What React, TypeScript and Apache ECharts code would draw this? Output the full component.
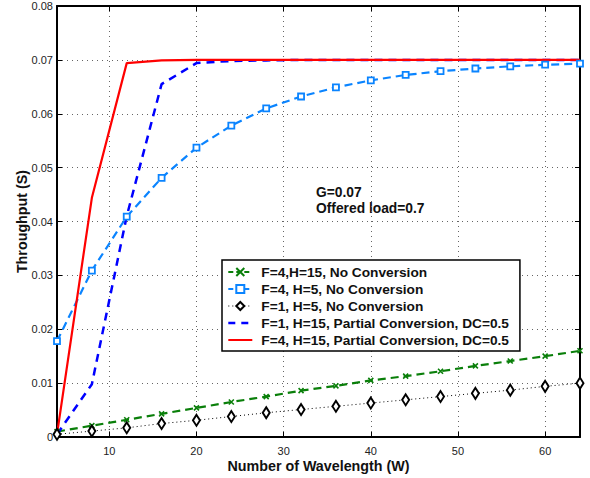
import React, { useEffect, useRef } from "react";
import * as echarts from "echarts";

const wavelengths = [4, 8, 12, 16, 20, 24, 28, 32, 36, 40, 44, 48, 52, 56, 60, 64];
const seriesNames = [
  "F=4,H=15, No Conversion",
  "F=4, H=5, No Conversion",
  "F=1, H=5, No Conversion",
  "F=1, H=15, Partial Conversion, DC=0.5",
  "F=4, H=15, Partial Conversion, DC=0.5",
];
const f4h15NoConv = [0.001, 0.0021, 0.0032, 0.0043, 0.0054, 0.0065, 0.0075, 0.0086, 0.0095, 0.0105, 0.0113, 0.0122, 0.0132, 0.0141, 0.015, 0.016];
const f4h5NoConv = [0.0178, 0.0309, 0.0409, 0.0481, 0.0537, 0.0578, 0.061, 0.0632, 0.0649, 0.0662, 0.0672, 0.0679, 0.0684, 0.0688, 0.0691, 0.0693];
const f1h5NoConv = [0.0005, 0.0011, 0.0017, 0.0025, 0.0031, 0.0038, 0.0045, 0.0051, 0.0057, 0.0063, 0.0069, 0.0075, 0.0081, 0.0087, 0.0094, 0.01];
const f1h15Partial = [0.0005, 0.0098, 0.041, 0.0655, 0.0694, 0.0698, 0.0699, 0.07, 0.07, 0.07, 0.07, 0.07, 0.07, 0.07, 0.07, 0.07];
const f4h15Partial = [0.0005, 0.0444, 0.0694, 0.0699, 0.07, 0.07, 0.07, 0.07, 0.07, 0.07, 0.07, 0.07, 0.07, 0.07, 0.07, 0.07];
const xTickValues = [10, 20, 30, 40, 50, 60];
const annotations = ["G=0.07", "Offered load=0.7"];

const FONT = "'Liberation Sans', Arial, Helvetica, sans-serif";
const GREEN = "#0a7f0a";
const LIGHTBLUE = "#0a84ff";
const BLUE = "#0000ff";
const RED = "#ff0000";

function pairs(vals: number[]) {
  return wavelengths.map((w, i) => [w, vals[i]]);
}

export default function App() {
  const ref = useRef<HTMLDivElement>(null);
  useEffect(() => {
    if (!ref.current) return;
    const chart = echarts.init(ref.current, null, { renderer: "svg" });
    const option: any = {
      animation: false,
      backgroundColor: "#fff",
      textStyle: { fontFamily: FONT },
      grid: { left: 57, right: 10, top: 6, bottom: 40, containLabel: false },
      legend: {
        orient: "vertical",
        left: 222,
        top: 260,
        padding: [5, 11, 4, 5],
        itemWidth: 24,
        itemHeight: 10,
        itemGap: 3,
        backgroundColor: "#fff",
        borderColor: "#000",
        borderWidth: 1.5,
        borderRadius: 0,
        textStyle: { fontFamily: FONT, fontSize: 13.7, fontWeight: "bold", color: "#111", padding: [0, 0, 0, 4] },
        data: [
          { name: seriesNames[0], lineStyle: { type: [5, 3], width: 2 } },
          { name: seriesNames[1], lineStyle: { type: [5, 3], width: 2 } },
          { name: seriesNames[2], lineStyle: { type: [1, 3], width: 1 } },
          { name: seriesNames[3], lineStyle: { type: [7, 6], width: 2.6 } },
          { name: seriesNames[4], lineStyle: { width: 2 } },
        ],
      },
      xAxis: [
        {
          type: "value",
          min: 4,
          max: 64,
          name: "Number of Wavelength (W)",
          nameLocation: "middle",
          nameGap: 22,
          nameMoveOverlap: false,
          nameTextStyle: { fontFamily: FONT, fontSize: 14.3, fontWeight: "bold", color: "#111" },
          axisLine: { show: true, onZero: false, lineStyle: { color: "#000", width: 2 } },
          axisTick: { show: true, inside: true, length: 5, customValues: xTickValues, lineStyle: { color: "#000", width: 1 } },
          axisLabel: { show: true, customValues: xTickValues, fontFamily: FONT, fontSize: 11, color: "#222", margin: 8 },
          splitLine: { show: true, lineStyle: { color: "#666", width: 1, type: [1, 4] } },
        },
        {
          type: "value",
          position: "top",
          min: 4,
          max: 64,
          axisLine: { show: true, onZero: false, lineStyle: { color: "#000", width: 2 } },
          axisTick: { show: true, inside: true, length: 5, customValues: xTickValues, lineStyle: { color: "#000", width: 1 } },
          axisLabel: { show: false },
          splitLine: { show: false },
        },
      ],
      yAxis: [
        {
          type: "value",
          min: 0,
          max: 0.08,
          interval: 0.01,
          name: "Throughput (S)",
          nameLocation: "middle",
          nameGap: 28,
          nameMoveOverlap: false,
          nameTextStyle: { fontFamily: FONT, fontSize: 14.3, fontWeight: "bold", color: "#111" },
          axisLine: { show: true, onZero: false, lineStyle: { color: "#000", width: 2 } },
          axisTick: { show: true, inside: true, length: 5, lineStyle: { color: "#000", width: 1 } },
          axisLabel: {
            fontFamily: FONT,
            fontSize: 11,
            color: "#222",
            margin: 4,
            formatter: (v: number) => (v === 0 ? "0" : v.toFixed(2)),
          },
          splitLine: { show: true, lineStyle: { color: "#666", width: 1, type: [1, 4] } },
        },
        {
          type: "value",
          position: "right",
          min: 0,
          max: 0.08,
          interval: 0.01,
          axisLine: { show: true, onZero: false, lineStyle: { color: "#000", width: 2 } },
          axisTick: { show: true, inside: true, length: 5, lineStyle: { color: "#000", width: 1 } },
          axisLabel: { show: false },
          splitLine: { show: false },
        },
      ],
      series: [
        {
          name: seriesNames[0],
          type: "line",
          data: pairs(f4h15NoConv),
          symbol: "path://M0,0L10,10M10,0L0,10",
          symbolSize: 5,
          itemStyle: { color: GREEN, borderColor: GREEN, borderWidth: 1.6 },
          lineStyle: { color: GREEN, width: 2.2, type: [8, 5] },
        },
        {
          name: seriesNames[1],
          type: "line",
          data: pairs(f4h5NoConv),
          symbol: "rect",
          symbolSize: 6,
          itemStyle: { color: "#fff", borderColor: LIGHTBLUE, borderWidth: 1.8 },
          lineStyle: { color: LIGHTBLUE, width: 2.2, type: [8, 5] },
        },
        {
          name: seriesNames[2],
          type: "line",
          data: pairs(f1h5NoConv),
          symbol: "diamond",
          symbolSize: [7, 11],
          itemStyle: { color: "#fff", borderColor: "#000", borderWidth: 2 },
          lineStyle: { color: "#000", width: 1, type: [1, 3] },
        },
        {
          name: seriesNames[3],
          type: "line",
          data: pairs(f1h15Partial),
          symbol: "circle",
          showSymbol: false,
          itemStyle: { color: "transparent", borderWidth: 0 },
          lineStyle: { color: BLUE, width: 2.5, type: [8, 6] },
        },
        {
          name: seriesNames[4],
          type: "line",
          data: pairs(f4h15Partial),
          symbol: "circle",
          showSymbol: false,
          itemStyle: { color: "transparent", borderWidth: 0 },
          lineStyle: { color: RED, width: 2.2 },
        },
      ],
      graphic: annotations.map((t, i) => ({
        type: "text",
        x: 316,
        y: 192 + i * 16,
        style: {
          text: t,
          fontFamily: FONT,
          fontSize: 13.8,
          fontWeight: "bold",
          fill: "#111",
          verticalAlign: "middle",
        },
      })),
    };
    chart.setOption(option);
    return () => chart.dispose();
  }, []);
  return <div ref={ref} style={{ position: "absolute", left: 0, top: 0, width: 590, height: 478 }} />;
}
